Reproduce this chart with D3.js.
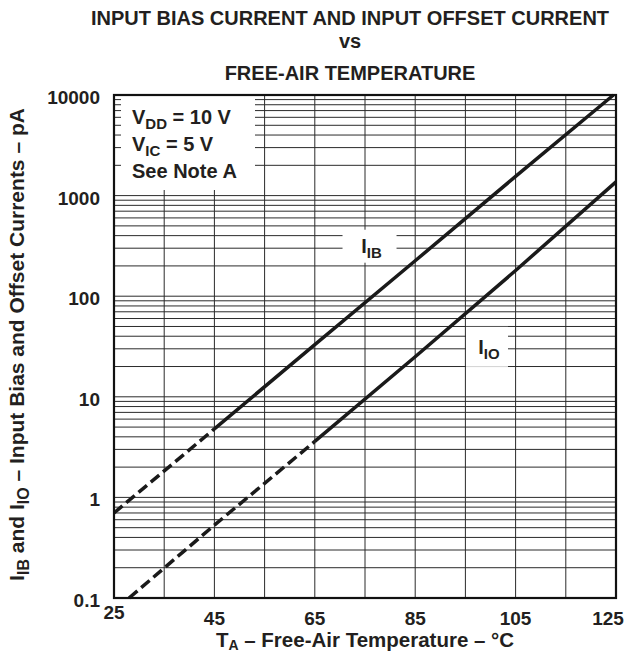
<!DOCTYPE html>
<html>
<head>
<meta charset="utf-8">
<script src="https://cdn.jsdelivr.net/npm/d3@7"></script>
<style>
  body { margin: 0; background: #fff; }
  text { font-family: "Liberation Sans", Arial, sans-serif; font-weight: bold; fill: #231f20; }
</style>
</head>
<body>
<div id="chart"></div>
<script>
// values
const tempTicks = [25, 45, 65, 85, 105, 125];
const tempGrid = [25, 35, 45, 55, 65, 75, 85, 95, 105, 115, 125];
const currentTicks = [0.1, 1, 10, 100, 1000, 10000];
const currentTickLabels = ["0.1", "1", "10", "100", "1000", "10000"];

// I_IB and I_IO (pA) against free-air temperature (°C)
const ibTemps = [25, 45, 65, 85, 105, 124.5];
const ibValues = [0.7, 4.8, 33, 225, 1550, 10000];
const ioTemps = [28, 45, 65, 85, 105, 125];
const ioValues = [0.1, 0.53, 3.6, 25, 180, 1370];
// below these temperatures the curves are drawn dashed
const dashEnds = [45, 65];

const titleLines = ["INPUT BIAS CURRENT AND INPUT OFFSET CURRENT", "vs", "FREE-AIR TEMPERATURE"];
const noteLines = [[["V", 0], ["DD", 1], [" = 10 V", 0]], [["V", 0], ["IC", 1], [" = 5 V", 0]], [["See Note A", 0]]];

const width = 626;
const height = 654;
const margin = {top: 95, right: 10, bottom: 56, left: 114};

const svg = d3.select("#chart")
  .append("svg")
    .attr("width", width)
    .attr("height", height);

const x = d3.scaleLinear()
  .domain([25, 125])
  .range([margin.left, width - margin.right]);

const y = d3.scaleLog()
  .domain([0.1, 10000])
  .range([height - margin.bottom, margin.top]);

// writes a run of normal / subscript pieces into a text element
function writeParts(t, parts, size, subSize, drop = 5) {
  let low = false;
  parts.forEach(([s, sub]) => {
    const ts = t.append("tspan").text(s).attr("font-size", sub ? subSize : size);
    if (sub && !low) { ts.attr("dy", drop); low = true; }
    else if (!sub && low) { ts.attr("dy", -drop); low = false; }
  });
}

// title
svg.selectAll(".title")
  .data(titleLines)
  .join("text")
    .attr("class", "title")
    .attr("x", 350)
    .attr("y", (d, i) => [25, 48, 80][i])
    .attr("text-anchor", "middle")
    .attr("font-size", 20)
    .text(d => d);

// grid
const minor = [];
currentTicks.slice(0, -1).forEach(v => {
  for (let k = 1; k < 10; k++) minor.push(v * k);
});
minor.push(10000);

svg.append("g")
  .selectAll("line")
  .data(minor)
  .join("line")
    .attr("x1", x(25)).attr("x2", x(125))
    .attr("y1", d => y(d)).attr("y2", d => y(d))
    .attr("stroke", "#2b2b2b")
    .attr("stroke-width", 1);

svg.append("g")
  .selectAll("line")
  .data(tempGrid)
  .join("line")
    .attr("x1", d => x(d)).attr("x2", d => x(d))
    .attr("y1", y(0.1)).attr("y2", y(10000))
    .attr("stroke", "#2b2b2b")
    .attr("stroke-width", 1);

// note box in the top-left corner covers the grid
svg.append("rect")
  .attr("x", x(25) + 7)
  .attr("y", y(10000) + 1)
  .attr("width", 134)
  .attr("height", 94)
  .attr("fill", "#fff");

noteLines.forEach((parts, i) => {
  const t = svg.append("text")
    .attr("x", x(25) + 18)
    .attr("y", 124 + i * 27);
  writeParts(t, parts, 20, 15);
});

// curves
const line = d3.line()
  .x(d => x(d[0]))
  .y(d => y(d[1]));

const series = [
  d3.zip(ibTemps, ibValues),
  d3.zip(ioTemps, ioValues)
];

series.forEach((pts, i) => {
  const cut = dashEnds[i];
  svg.append("path")
    .datum(pts.filter(d => d[0] <= cut))
    .attr("d", line)
    .attr("fill", "none")
    .attr("stroke", "#1a1a1a")
    .attr("stroke-width", 3.5)
    .attr("stroke-dasharray", "11,5");
  svg.append("path")
    .datum(pts.filter(d => d[0] >= cut))
    .attr("d", line)
    .attr("fill", "none")
    .attr("stroke", "#1a1a1a")
    .attr("stroke-width", 3.5);
});

// curve labels with white backing
const curveLabels = [
  {name: "IB", t: 76.3, v: 300, w: 54, h: 33},
  {name: "IO", t: 99.7, v: 30, w: 42, h: 40}
];
curveLabels.forEach(d => {
  const cx = x(d.t), cy = y(d.v);
  svg.append("rect")
    .attr("x", cx - d.w / 2 - 2)
    .attr("y", cy - d.h / 2 - 2)
    .attr("width", d.w)
    .attr("height", d.h)
    .attr("fill", "#fff");
  const t = svg.append("text")
    .attr("x", cx)
    .attr("y", cy + 5)
    .attr("text-anchor", "middle");
  writeParts(t, [["I", 0], [d.name, 1]], 20, 15);
});

// frame
svg.append("rect")
  .attr("x", x(25))
  .attr("y", y(10000))
  .attr("width", x(125) - x(25))
  .attr("height", y(0.1) - y(10000))
  .attr("fill", "none")
  .attr("stroke", "#111")
  .attr("stroke-width", 2.2);

// y tick labels
svg.selectAll(".ylab")
  .data(currentTicks)
  .join("text")
    .attr("class", "ylab")
    .attr("x", x(25) - 14)
    .attr("y", d => y(d) + 9)
    .attr("text-anchor", "end")
    .attr("font-size", 19)
    .text((d, i) => currentTickLabels[i]);

// x tick labels ("25" sits higher, "125" pulled in from the edge)
svg.selectAll(".xlab")
  .data(tempTicks)
  .join("text")
    .attr("class", "xlab")
    .attr("x", d => x(d) - (d === 125 ? 8 : 0))
    .attr("y", d => d === 25 ? 619 : 625)
    .attr("text-anchor", "middle")
    .attr("font-size", 19)
    .text(d => d);

// axis titles
const xt = svg.append("text")
  .attr("x", (x(25) + x(125)) / 2)
  .attr("y", 647)
  .attr("text-anchor", "middle");
writeParts(xt, [["T", 0], ["A", 1], [" \u2013 Free-Air Temperature \u2013 \u00B0C", 0]], 20.5, 14, 3);

const yt = svg.append("text")
  .attr("transform", `translate(24,${(y(0.1) + y(10000)) / 2 - 2}) rotate(-90)`)
  .attr("text-anchor", "middle");
writeParts(yt, [["I", 0], ["IB", 1], [" and I", 0], ["IO", 1], [" \u2013 Input Bias and Offset Currents \u2013 pA", 0]], 21, 16);
</script>
</body>
</html>
